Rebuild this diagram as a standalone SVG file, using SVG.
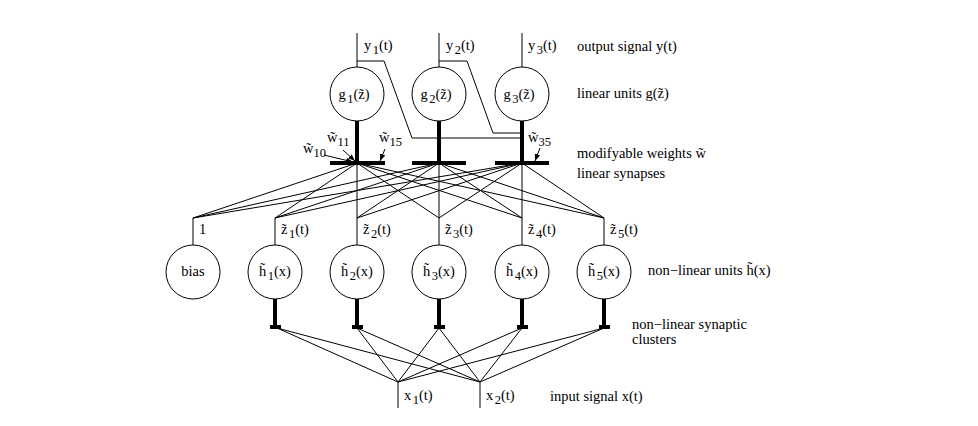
<svg xmlns="http://www.w3.org/2000/svg" width="978" height="426" viewBox="0 0 978 426">
<style>
text{font-family:"Liberation Serif","Times New Roman",serif;font-size:14.5px;fill:#000}
.s{font-size:12.5px}
.thin{stroke:#000;stroke-width:1;fill:none}
.thick{stroke:#000;stroke-width:4;fill:none}
.node circle{fill:#fff;stroke:#000;stroke-width:1}
.mid{text-anchor:middle}
</style>
<defs>
<marker id="ah" viewBox="0 0 10 10" refX="10" refY="5" markerWidth="7" markerHeight="7" orient="auto" markerUnits="userSpaceOnUse">
<path d="M0,1 L10,5 L0,9 z" fill="#000"/>
</marker>
</defs>
<rect width="978" height="426" fill="#fff"/>

<g id="connectors">
<path class="thin" d="M357,33V67 M439,33V67 M522,33V67"/>
<path class="thin" d="M357,61H384L412,138H522 M439,61H467L493,133H522"/>
<path class="thick" d="M357,121V163 M439,121V163 M522,121V163 M330,163H385 M412,163H466 M495,163H549"/>
<g class="thin">
<path d="M357,163L193,218 M357,163L275,218 M357,163L357,218 M357,163L439,218 M357,163L522,218 M357,163L604,218"/>
<path d="M439,163L193,218 M439,163L275,218 M439,163L357,218 M439,163L439,218 M439,163L522,218 M439,163L604,218"/>
<path d="M522,163L193,218 M522,163L275,218 M522,163L357,218 M522,163L439,218 M522,163L522,218 M522,163L604,218"/>
</g>
<path class="thin" d="M193,218V245 M275,218V245 M357,218V245 M439,218V245 M522,218V245 M604,218V245"/>
<path class="thick" d="M275,299V327 M357,299V327 M439,299V327 M522,299V327 M604,299V327"/>
<path class="thick" d="M270,327H281 M352,327H363 M434,327H445 M517,327H528 M599,327H610"/>
<g class="thin">
<path d="M277,328L398,382 M277,328L480,382 M357,328L398,382 M357,328L480,382 M439,328L398,382 M439,328L480,382 M522,328L398,382 M522,328L480,382 M604,328L398,382 M604,328L480,382"/>
<path d="M398,382V408 M480,382V408"/>
</g>
<g class="thin" marker-end="url(#ah)">
<path d="M324,155L353,162"/>
<path d="M343,150L355,161"/>
<path d="M385,149L380,161"/>
<path d="M540,148L535,161"/>
</g>
</g>

<g id="g1" class="node"><circle cx="357" cy="94" r="27"/><text x="354" y="99" class="mid">g<tspan class="s" dx="1.5" dy="4">1</tspan><tspan dy="-4">(z̃)</tspan></text></g>
<g id="g2" class="node"><circle cx="439" cy="94" r="27"/><text x="436" y="99" class="mid">g<tspan class="s" dx="1.5" dy="4">2</tspan><tspan dy="-4">(z̃)</tspan></text></g>
<g id="g3" class="node"><circle cx="522" cy="94" r="27"/><text x="519" y="99" class="mid">g<tspan class="s" dx="1.5" dy="4">3</tspan><tspan dy="-4">(z̃)</tspan></text></g>

<g id="bias" class="node"><circle cx="193" cy="272" r="27"/><text x="193" y="276" class="mid">bias</text></g>
<g id="h1" class="node"><circle cx="275" cy="272" r="27"/><text x="275" y="276" class="mid">h̃<tspan class="s" dx="1.5" dy="4">1</tspan><tspan dy="-4">(x)</tspan></text></g>
<g id="h2" class="node"><circle cx="357" cy="272" r="27"/><text x="357" y="276" class="mid">h̃<tspan class="s" dx="1.5" dy="4">2</tspan><tspan dy="-4">(x)</tspan></text></g>
<g id="h3" class="node"><circle cx="439" cy="272" r="27"/><text x="439" y="276" class="mid">h̃<tspan class="s" dx="1.5" dy="4">3</tspan><tspan dy="-4">(x)</tspan></text></g>
<g id="h4" class="node"><circle cx="522" cy="272" r="27"/><text x="522" y="276" class="mid">h̃<tspan class="s" dx="1.5" dy="4">4</tspan><tspan dy="-4">(x)</tspan></text></g>
<g id="h5" class="node"><circle cx="604" cy="272" r="27"/><text x="604" y="276" class="mid">h̃<tspan class="s" dx="1.5" dy="4">5</tspan><tspan dy="-4">(x)</tspan></text></g>

<g id="labels">
<text x="364" y="50">y<tspan class="s" dx="1.5" dy="4">1</tspan><tspan dy="-4">(t)</tspan></text>
<text x="446" y="50">y<tspan class="s" dx="1.5" dy="4">2</tspan><tspan dy="-4">(t)</tspan></text>
<text x="528" y="50">y<tspan class="s" dx="1.5" dy="4">3</tspan><tspan dy="-4">(t)</tspan></text>
<text x="303" y="153">w̃<tspan class="s" dy="4">10</tspan></text>
<text x="327" y="142">w̃<tspan class="s" dy="4">11</tspan></text>
<text x="379" y="142">w̃<tspan class="s" dy="4">15</tspan></text>
<text x="528" y="142">w̃<tspan class="s" dy="4">35</tspan></text>
<text x="199" y="234">1</text>
<text x="281" y="234">z̃<tspan class="s" dx="1.5" dy="4">1</tspan><tspan dy="-4">(t)</tspan></text>
<text x="363" y="234">z̃<tspan class="s" dx="1.5" dy="4">2</tspan><tspan dy="-4">(t)</tspan></text>
<text x="445" y="234">z̃<tspan class="s" dx="1.5" dy="4">3</tspan><tspan dy="-4">(t)</tspan></text>
<text x="528" y="234">z̃<tspan class="s" dx="1.5" dy="4">4</tspan><tspan dy="-4">(t)</tspan></text>
<text x="610" y="234">z̃<tspan class="s" dx="1.5" dy="4">5</tspan><tspan dy="-4">(t)</tspan></text>
<text x="404" y="400">x<tspan class="s" dx="1.5" dy="4">1</tspan><tspan dy="-4">(t)</tspan></text>
<text x="486" y="400">x<tspan class="s" dx="1.5" dy="4">2</tspan><tspan dy="-4">(t)</tspan></text>
<text x="577" y="51">output signal y(t)</text>
<text x="577" y="98">linear units g(z̃)</text>
<text x="577" y="158">modifyable weights w̃</text>
<text x="577" y="178">linear synapses</text>
<text x="648" y="275">non−linear units h̃(x)</text>
<text x="632" y="329">non−linear synaptic</text>
<text x="632" y="344">clusters</text>
<text x="550" y="401">input signal x(t)</text>
</g>
</svg>
